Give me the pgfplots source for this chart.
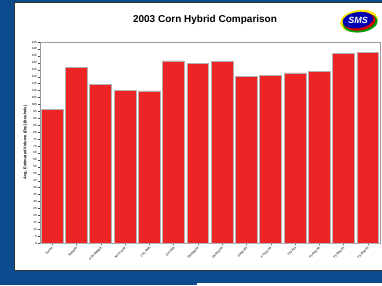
\documentclass[border=0pt]{standalone}
\usepackage{pgfplots}
\pgfplotsset{compat=1.18}
\usepackage{fontspec}
\setmainfont{Liberation Sans}
\definecolor{bgblue}{HTML}{0B4A8C}
\definecolor{barred}{HTML}{EE2326}
\begin{document}
\begin{tikzpicture}
\useasboundingbox (0pt,0pt) rectangle (382pt,285pt);
\fill[bgblue] (0pt,0pt) rectangle (382pt,285pt);
\fill[white] (197pt,0pt) rectangle (382pt,2pt);
\fill[white,draw=black!80,line width=1pt] (14pt,15pt) rectangle (385pt,283pt);
\node[font=\bfseries\fontsize{10}{12}\selectfont] at (205pt,265pt) {2003 Corn Hybrid Comparison};
% logo
\begin{scope}[shift={(359pt,264pt)},rotate=8]
\fill[yellow!90!orange] (0pt,0pt) ellipse (19pt and 11pt);
\fill[green!60!black] (1pt,-2pt) ellipse (17.5pt and 9.5pt);
\fill[red!85!black] (0.5pt,-0.5pt) ellipse (16pt and 9pt);
\fill[blue!70!black] (-1pt,1pt) ellipse (15.5pt and 8pt);
\end{scope}
\node[text=white,font=\bfseries\itshape\fontsize{9}{10}\selectfont] at (358pt,265pt) {SMS};
\begin{axis}[
  at={(40pt,42pt)}, anchor=south west,
  width=340pt, height=201pt, scale only axis,
  xmin=0.5, xmax=14.5, ymin=0, ymax=145,
  ybar, bar width=0.9, bar shift=0pt,
  axis line style={black!40},
  xtick=data,
  xticklabels={EXP47,SW68BT,AGX4880BE,AGX770BT,CRL4585,GH2406,GR8590BT,DK6520BT,GA8630T,FT5267BT,P33A14,P34H32BT,P34N42BT,P34N45BT},
  x tick label style={rotate=45,anchor=north east,font=\fontsize{3}{3.5}\selectfont,inner sep=1pt},
  ytick={0,5,...,145},
  y tick label style={font=\fontsize{3}{3.5}\selectfont,inner sep=1pt},
  /pgf/number format/assume math mode=true,
  tick align=outside, tick style={black!70}, major tick length=2pt,
  xtick pos=bottom, ytick pos=left,
  ylabel={Avg. Estimated Volume (Dry) (bushels)},
  ylabel style={font=\bfseries\fontsize{4}{5}\selectfont,yshift=0pt},
  clip=false,
]
\addplot[fill=barred,draw=black!30,line width=0.7pt] coordinates {
(1,96.5) (2,126.8) (3,114.7) (4,110.2) (5,109.7) (6,131.3) (7,129.6)
(8,131.0) (9,120.0) (10,120.7) (11,122.7) (12,123.9) (13,136.9) (14,137.6)};
\end{axis}
\end{tikzpicture}
\end{document}
